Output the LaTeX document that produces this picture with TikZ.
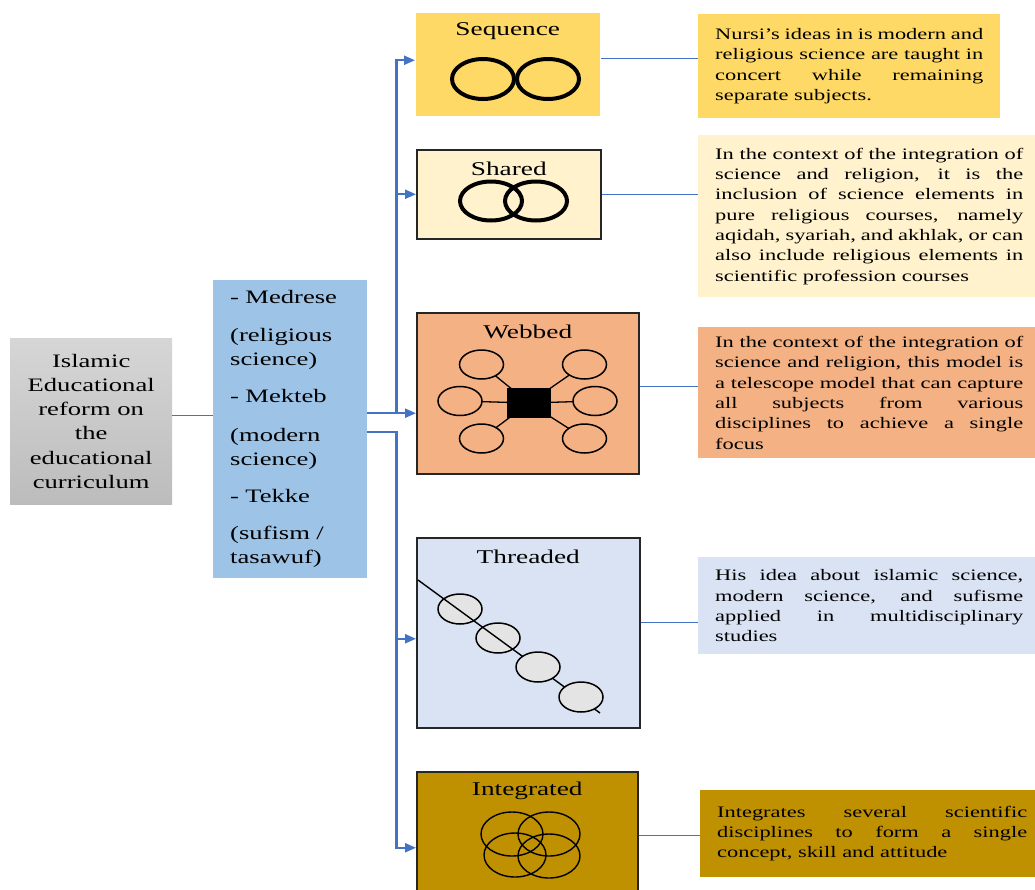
\documentclass[tikz,border=0pt]{standalone}
\usepackage{fontspec}
\setmainfont[FakeStretch=1.4]{Liberation Serif}
\usetikzlibrary{arrows.meta}
\definecolor{linkblue}{HTML}{4472C4}
\definecolor{midblue}{HTML}{9DC3E6}
\definecolor{seqyellow}{HTML}{FFD966}
\definecolor{shrcream}{HTML}{FFF2CC}
\definecolor{webpeach}{HTML}{F4B183}
\definecolor{thrblue}{HTML}{DAE3F3}
\definecolor{intgold}{HTML}{BF9000}
\definecolor{beadgray}{HTML}{E4E4E4}
\definecolor{boxtop}{HTML}{D6D6D6}
\definecolor{boxbot}{HTML}{BCBCBC}
\hyphenpenalty=10000
\exhyphenpenalty=10000

\begin{document}
\begin{tikzpicture}[x=1pt,y=-1pt,
  model/.style={draw=black!85,line width=1.5pt,anchor=north west,inner sep=0pt},
  note/.style={anchor=north west,inner xsep=17pt,inner ysep=0pt,align=justify,
    font=\fontsize{16}{20.3}\selectfont},
  title/.style={font=\fontsize{19.5}{22}\selectfont,inner sep=0pt},
  conn/.style={draw=linkblue,line width=1.4pt},
  feed/.style={draw=linkblue,line width=2.2pt,-{Triangle[length=11pt,width=9pt]}},
  ring/.style={line width=4pt},
  bead/.style={draw,line width=1.5pt}]
  \useasboundingbox (0,0) rectangle (1035,889);

  % left column
  \node[anchor=north west,top color=boxtop,bottom color=boxbot,minimum width=162pt,
    minimum height=166pt,align=center,font=\fontsize{19}{24.2}\selectfont]
    (isl) at (10,338) {Islamic\\Educational\\reform on\\the\\educational\\curriculum};
  \node[anchor=north west,fill=midblue,minimum width=154pt,minimum height=298pt,
    text width=120pt,align=left,font=\fontsize{19}{24}\selectfont]
    (mid) at (213,280) {- Medrese\\[14pt](religious\\science)\\[13pt]- Mekteb\\[15pt](modern\\science)\\[13pt]- Tekke\\[13pt](sufism /\\tasawuf)};

  % models
  \node[model,draw=none,fill=seqyellow,minimum width=184pt,minimum height=103pt] (seq) at (415,12) {};
  \node[model,fill=shrcream,minimum width=184pt,minimum height=89pt] (shr) at (416,149) {};
  \node[model,fill=webpeach,minimum width=222pt,minimum height=161pt] (web) at (416,312) {};
  \node[model,fill=thrblue,minimum width=223pt,minimum height=190pt] (thr) at (416,537) {};
  \node[model,fill=intgold,minimum width=221pt,minimum height=128pt] (int) at (416,771) {};

  \node[title] (seqt) at ([yshift=-19.5pt]seq.north) {Sequence};
  \node[title] (shrt) at ([yshift=-19.5pt]shr.north) {Shared};
  \node[title] (webt) at ([yshift=-19.5pt]web.north) {Webbed};
  \node[title] (thrt) at ([yshift=-19.5pt]thr.north) {Threaded};
  \node[title] (intt) at ([yshift=-19.5pt]int.north) {Integrated};

  % icons
  \draw[ring] (483,79) ellipse [x radius=31pt,y radius=20pt];
  \draw[ring] (548,79) ellipse [x radius=31pt,y radius=20pt];
  \draw[ring] (491,201) ellipse [x radius=31pt,y radius=19.5pt];
  \draw[ring] (536,201) ellipse [x radius=31pt,y radius=19.5pt];

  \draw[line width=1.3pt] (529,403) -- (481.5,364.5);
  \draw[line width=1.3pt] (529,403) -- (460,401);
  \draw[line width=1.3pt] (529,403) -- (481.5,438.5);
  \draw[line width=1.3pt] (529,403) -- (584.5,364.5);
  \draw[line width=1.3pt] (529,403) -- (595,401);
  \draw[line width=1.3pt] (529,403) -- (584.5,438.5);
  \draw[bead,fill=webpeach] (481.5,364.5) ellipse [x radius=22pt,y radius=14.5pt];
  \draw[bead,fill=webpeach] (460,401) ellipse [x radius=22pt,y radius=14.5pt];
  \draw[bead,fill=webpeach] (481.5,438.5) ellipse [x radius=22pt,y radius=14.5pt];
  \draw[bead,fill=webpeach] (584.5,364.5) ellipse [x radius=22pt,y radius=14.5pt];
  \draw[bead,fill=webpeach] (595,401) ellipse [x radius=22pt,y radius=14.5pt];
  \draw[bead,fill=webpeach] (584.5,438.5) ellipse [x radius=22pt,y radius=14.5pt];
  \fill (507,388) rectangle (551,418);

  \draw[bead,fill=beadgray] (460,609) ellipse [x radius=22pt,y radius=15pt];
  \draw[bead,fill=beadgray] (498,638) ellipse [x radius=22pt,y radius=15pt];
  \draw[line width=1.4pt] (418,580) -- (600,713);
  \draw[bead,fill=beadgray] (538,667) ellipse [x radius=22pt,y radius=15pt];
  \draw[bead,fill=beadgray] (581,697) ellipse [x radius=22pt,y radius=15pt];

  \draw[line width=1.4pt] (512,834) ellipse [x radius=31pt,y radius=22pt];
  \draw[line width=1.4pt] (549,834) ellipse [x radius=31pt,y radius=22pt];
  \draw[line width=1.4pt] (515,855) ellipse [x radius=31pt,y radius=22pt];
  \draw[line width=1.4pt] (549,856) ellipse [x radius=31pt,y radius=22pt];

  % notes
  \node[note,fill=seqyellow,text width=268pt,minimum height=104pt] (t1) at (698,14)
    {Nursi's ideas in is modern and\linebreak religious science are taught in\linebreak concert while remaining\linebreak separate subjects.};
  \node[note,fill=shrcream,text width=308pt,minimum height=162pt] (t2) at (698,135)
    {In the context of the integration of\linebreak science and religion, it is the\linebreak inclusion of science elements in\linebreak pure religious courses, namely\linebreak aqidah, syariah, and akhlak, or can\linebreak also include religious elements in\linebreak scientific profession courses};
  \node[note,fill=webpeach,text width=308pt,minimum height=131pt] (t3) at (698,327)
    {In the context of the integration of\linebreak science and religion, this model is\linebreak a telescope model that can capture\linebreak all subjects from various\linebreak disciplines to achieve a single\linebreak focus};
  \node[note,fill=thrblue,text width=308pt,minimum height=97pt] (t4) at (698,557)
    {His idea about islamic science,\linebreak modern science, and sufisme\linebreak applied in multidisciplinary\linebreak studies};
  \node[note,fill=intgold,text width=310pt,minimum height=87pt] (t5) at (700,790)
    {Integrates several scientific\linebreak disciplines to form a single\linebreak concept, skill and attitude};

  % connectors
  \coordinate (isl1) at ([yshift=6pt]isl.east);
  \draw[conn] (isl1) -- (isl1 -| mid.west);

  \coordinate (hub) at ([yshift=16pt]mid.east);
  \coordinate (hubl) at ([yshift=-3pt]mid.east);
  \coordinate (seqin) at ([yshift=4pt]seq.west);
  \coordinate (thrin) at ([yshift=-6pt]thr.west);
  \coordinate (intin) at ([yshift=-12pt]int.west);
  \draw[feed] (hub) -- ++(29,0) |- (seqin);
  \draw[feed] (hub) -- ++(29,0) |- (shr.west);
  \draw[feed] (hub) -- (hub -| web.west);
  \draw[feed] (hubl) -- ++(29,0) |- (thrin);
  \draw[feed] (hubl) -- ++(29,0) |- (intin);

  \coordinate (s1) at ([yshift=6pt]seq.east);
  \coordinate (s3) at ([yshift=7pt]web.east);
  \coordinate (s4) at ([yshift=10pt]thr.east);
  \draw[conn] (s1) -- (s1 -| t1.west);
  \draw[conn] (shr.east) -- (shr.east -| t2.west);
  \draw[conn] (s3) -- (s3 -| t3.west);
  \draw[conn] (s4) -- (s4 -| t4.west);
  \draw[conn] (int.east) -- (int.east -| t5.west);
\end{tikzpicture}
\end{document}
